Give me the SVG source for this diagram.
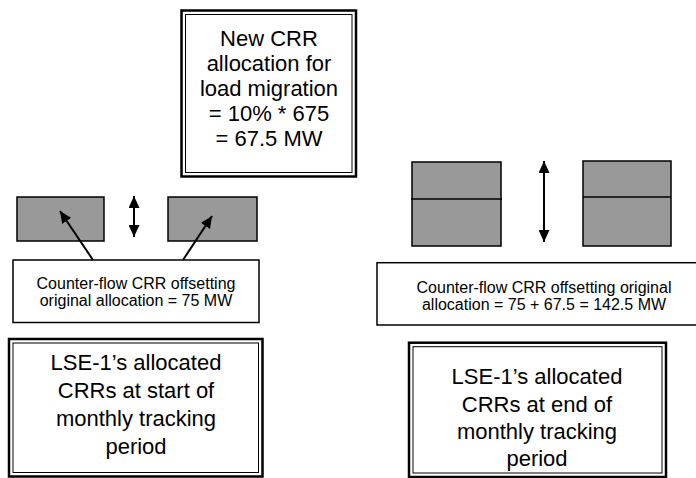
<svg xmlns="http://www.w3.org/2000/svg" width="696" height="478" viewBox="0 0 696 478">
<style>
.outer{fill:#fff;stroke:#000;stroke-width:2.5}
.inner{fill:none;stroke:#000;stroke-width:1}
.crr{fill:#999;stroke:#000;stroke-width:1.5}
.lbl{fill:#fff;stroke:#000;stroke-width:1.5}
.big{font-family:"Liberation Sans",Arial,sans-serif;font-size:22px;fill:#000;text-anchor:middle}
.small{font-family:"Liberation Sans",Arial,sans-serif;font-size:16px;fill:#000;text-anchor:middle}
.ln{stroke:#000;stroke-width:2;fill:none}
</style>
<defs>
<marker id="ah" viewBox="0 0 10 10" refX="10" refY="5" markerWidth="6" markerHeight="5.5" orient="auto-start-reverse" markerUnits="strokeWidth" preserveAspectRatio="none">
<path d="M0,0 L10,5 L0,10 z" fill="#000"/>
</marker>
</defs>
<g id="new-crr">
<rect class="outer" x="181.5" y="10.5" width="174.5" height="166"/>
<rect class="inner" x="185.5" y="14.5" width="166.5" height="158"/>
<text class="big" x="269" y="46">New CRR</text>
<text class="big" x="269" y="71">allocation for</text>
<text class="big" x="269" y="96">load migration</text>
<text class="big" x="269" y="121">= 10% * 675</text>
<text class="big" x="269" y="146">= 67.5 MW</text>
</g>
<g id="start-crr-a"><rect class="crr" x="17" y="197" width="87" height="44"/></g>
<g id="start-crr-b"><rect class="crr" x="168" y="197" width="89" height="44"/></g>
<g id="start-label">
<rect class="lbl" x="13" y="260" width="246" height="62.5"/>
<text class="small" x="136" y="289">Counter-flow CRR offsetting</text>
<text class="small" x="136" y="306">original allocation = 75 MW</text>
</g>
<g id="start-box">
<rect class="outer" x="9" y="339" width="253.5" height="137.5"/>
<rect class="inner" x="13" y="343" width="245.5" height="129.5"/>
<text class="big" x="136" y="370">LSE-1’s allocated</text>
<text class="big" x="136" y="398">CRRs at start of</text>
<text class="big" x="136" y="426">monthly tracking</text>
<text class="big" x="136" y="454">period</text>
</g>
<g id="end-crr-a">
<rect class="crr" x="412" y="162" width="89" height="84"/>
<line x1="411" y1="199" x2="502" y2="199" stroke="#000" stroke-width="1.5"/>
</g>
<g id="end-crr-b">
<rect class="crr" x="583" y="161" width="88" height="85"/>
<line x1="583" y1="197" x2="671" y2="197" stroke="#000" stroke-width="1.5"/>
</g>
<g id="end-label">
<rect class="lbl" x="377" y="262.7" width="340" height="62.3"/>
<text class="small" x="544" y="293">Counter-flow CRR offsetting original</text>
<text class="small" x="544" y="310">allocation = 75 + 67.5 = 142.5 MW</text>
</g>
<g id="end-box">
<rect class="outer" x="409" y="342.7" width="257" height="134.3"/>
<rect class="inner" x="413" y="346.7" width="249" height="126.3"/>
<text class="big" x="537" y="384">LSE-1’s allocated</text>
<text class="big" x="537" y="412">CRRs at end of</text>
<text class="big" x="537" y="439">monthly tracking</text>
<text class="big" x="537" y="466">period</text>
</g>
<g id="connectors">
<line class="ln" x1="134" y1="196" x2="134" y2="237" marker-start="url(#ah)" marker-end="url(#ah)"/>
<line class="ln" x1="544" y1="161" x2="544" y2="242" marker-start="url(#ah)" marker-end="url(#ah)"/>
<line class="ln" x1="93" y1="260" x2="60" y2="211" marker-end="url(#ah)"/>
<line class="ln" x1="183" y1="260" x2="212" y2="216" marker-end="url(#ah)"/>
</g>
</svg>
